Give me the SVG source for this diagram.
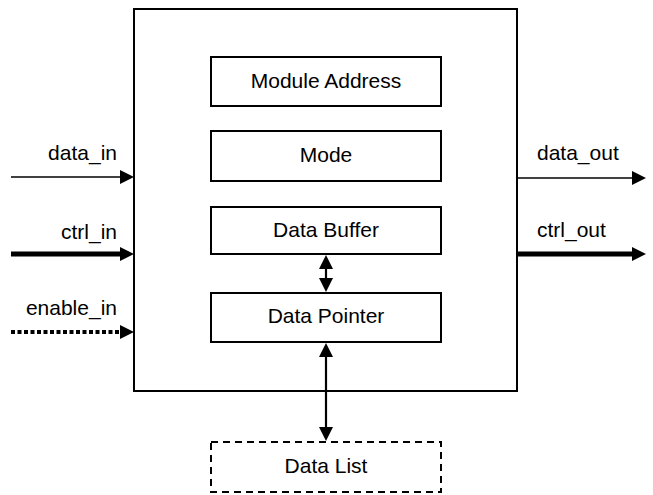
<svg xmlns="http://www.w3.org/2000/svg" width="653" height="495" viewBox="0 0 653 495">
  <defs>
    <!-- arrowhead: base sits on the line end, tip points outward -->
    <marker id="head" viewBox="0 0 14 14" refX="0" refY="7" markerUnits="userSpaceOnUse" markerWidth="14" markerHeight="14" orient="auto-start-reverse">
      <path d="M0,0 L14,7 L0,14 Z" fill="#000"/>
    </marker>
    <style>
      .box { fill: #fff; stroke: #000; stroke-width: 2; }
      .dashed { stroke-dasharray: 7 5; }
      .label { font-family: "Liberation Sans", Arial, sans-serif; font-size: 21px; fill: #000; }
      .mid { text-anchor: middle; }
      .end { text-anchor: end; }
      .wire { fill: none; stroke: #000; }
      .thin { stroke-width: 1.5; }
      .thick { stroke-width: 5; }
      .dotted { stroke-width: 4; stroke-dasharray: 4 2.5; }
      .link { stroke-width: 2.2; }
    </style>
  </defs>

  <!-- module container -->
  <g id="module">
    <rect class="box" x="134" y="9" width="383" height="382"/>
  </g>

  <g id="module-address">
    <rect class="box" x="211" y="57" width="230" height="49"/>
    <text class="label mid" x="326" y="88">Module Address</text>
  </g>

  <g id="mode">
    <rect class="box" x="211" y="131" width="230" height="50"/>
    <text class="label mid" x="326" y="162">Mode</text>
  </g>

  <g id="data-buffer">
    <rect class="box" x="211" y="207" width="230" height="47"/>
    <text class="label mid" x="326" y="237">Data Buffer</text>
  </g>

  <g id="data-pointer">
    <rect class="box" x="211" y="293" width="230" height="49"/>
    <text class="label mid" x="326" y="323">Data Pointer</text>
  </g>

  <g id="data-list">
    <rect class="box dashed" x="211" y="442" width="230" height="50"/>
    <text class="label mid" x="326" y="473">Data List</text>
  </g>

  <!-- port labels -->
  <g id="ports">
    <text class="label end" x="117" y="160">data_in</text>
    <text class="label end" x="117" y="239">ctrl_in</text>
    <text class="label end" x="117" y="315">enable_in</text>
    <text class="label" x="537" y="160">data_out</text>
    <text class="label" x="537" y="237">ctrl_out</text>
  </g>

  <!-- connectors -->
  <g id="connectors">
    <line class="wire thin" x1="11" y1="177" x2="120" y2="177" marker-end="url(#head)"/>
    <line class="wire thick" x1="11" y1="254" x2="120" y2="254" marker-end="url(#head)"/>
    <line class="wire dotted" x1="11" y1="332" x2="120" y2="332" marker-end="url(#head)"/>
    <line class="wire thin" x1="517" y1="178" x2="632" y2="178" marker-end="url(#head)"/>
    <line class="wire thick" x1="517" y1="254" x2="632" y2="254" marker-end="url(#head)"/>
    <line class="wire link" x1="326" y1="269" x2="326" y2="278" marker-start="url(#head)" marker-end="url(#head)"/>
    <line class="wire link" x1="326" y1="357" x2="326" y2="427" marker-start="url(#head)" marker-end="url(#head)"/>
  </g>
</svg>
